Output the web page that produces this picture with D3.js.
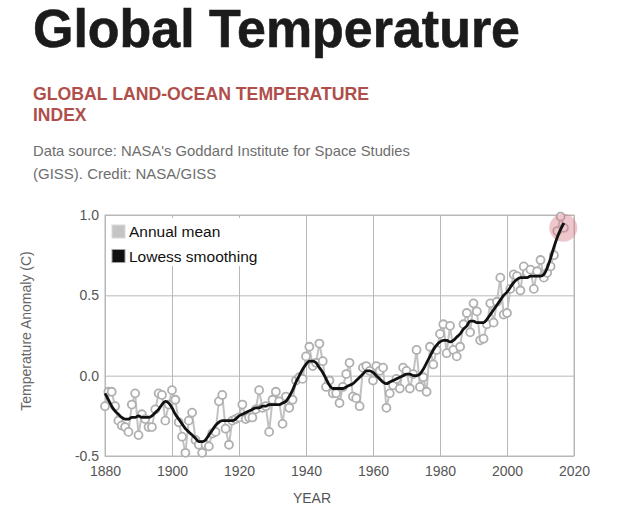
<!DOCTYPE html>
<html>
<head>
<meta charset="utf-8">
<script src="https://cdn.jsdelivr.net/npm/d3@7/dist/d3.min.js"></script>
<style>
  html, body { margin: 0; padding: 0; background: #fff; }
  svg { display: block; font-family: "Liberation Sans", Arial, Helvetica, sans-serif; }
</style>
</head>
<body>
<svg id="chart" width="640" height="508"></svg>
<script>
// ---- Data ----
const years = d3.range(1880, 2018);
const annualMean = [
  -0.19,-0.10,-0.10,-0.19,-0.28,-0.31,-0.32,-0.35,-0.18,-0.11,
  -0.37,-0.24,-0.27,-0.32,-0.32,-0.21,-0.11,-0.12,-0.28,-0.18,
  -0.09,-0.15,-0.29,-0.38,-0.48,-0.28,-0.23,-0.40,-0.43,-0.48,
  -0.43,-0.44,-0.36,-0.35,-0.16,-0.12,-0.33,-0.43,-0.28,-0.27,
  -0.26,-0.18,-0.27,-0.26,-0.26,-0.21,-0.09,-0.20,-0.19,-0.35,
  -0.15,-0.10,-0.16,-0.30,-0.13,-0.20,-0.15,-0.03,-0.01,-0.02,
   0.12, 0.18, 0.06, 0.08, 0.20, 0.09,-0.07,-0.03,-0.11,-0.11,
  -0.17,-0.07, 0.01, 0.08,-0.13,-0.14,-0.19, 0.05, 0.06, 0.03,
  -0.03, 0.06, 0.03, 0.05,-0.20,-0.11,-0.06,-0.02,-0.08, 0.05,
   0.03,-0.08, 0.01, 0.16,-0.07,-0.01,-0.10, 0.18, 0.07, 0.16,
   0.26, 0.32, 0.14, 0.31, 0.16, 0.12, 0.18, 0.32, 0.39, 0.27,
   0.45, 0.40, 0.22, 0.23, 0.32, 0.45, 0.33, 0.46, 0.61, 0.38,
   0.39, 0.54, 0.63, 0.62, 0.53, 0.68, 0.64, 0.66, 0.54, 0.65,
   0.72, 0.61, 0.64, 0.68, 0.75, 0.90, 0.99, 0.92
];
const lowess = [
  -0.11,-0.15,-0.19,-0.22,-0.24,-0.26,-0.27,-0.27,-0.26,-0.26,
  -0.25,-0.26,-0.26,-0.26,-0.25,-0.23,-0.21,-0.18,-0.16,-0.17,
  -0.20,-0.24,-0.27,-0.30,-0.33,-0.35,-0.37,-0.39,-0.41,-0.41,
  -0.40,-0.37,-0.34,-0.31,-0.29,-0.28,-0.28,-0.28,-0.28,-0.27,
  -0.25,-0.24,-0.23,-0.22,-0.21,-0.20,-0.20,-0.19,-0.19,-0.18,
  -0.18,-0.18,-0.18,-0.17,-0.16,-0.13,-0.09,-0.04, 0.00, 0.04,
   0.07, 0.09, 0.09, 0.08, 0.05, 0.02,-0.02,-0.06,-0.08,-0.08,
  -0.08,-0.08,-0.07,-0.06,-0.05,-0.03,-0.01, 0.01, 0.03, 0.03,
   0.02, 0.00,-0.02,-0.04,-0.05,-0.04,-0.03,-0.02,-0.01, 0.00,
   0.01, 0.01, 0.00, 0.00, 0.01, 0.04, 0.08, 0.12, 0.16, 0.19,
   0.21, 0.22, 0.22, 0.21, 0.22, 0.24, 0.26, 0.29, 0.31, 0.34,
   0.34, 0.33, 0.33, 0.33, 0.35, 0.38, 0.41, 0.44, 0.47, 0.50,
   0.52, 0.55, 0.58, 0.60, 0.61, 0.61, 0.61, 0.62, 0.62, 0.62,
   0.62, 0.63, 0.67, 0.73, 0.80, 0.86, 0.91, 0.95
];
const xTicks = [1880, 1900, 1920, 1940, 1960, 1980, 2000, 2020];
const yTicks = [-0.5, 0.0, 0.5, 1.0];
const highlightYear = [2016.8];
const highlightValue = [0.92];
const legendLabels = ["Annual mean", "Lowess smoothing"];

// ---- Layout ----
const svg = d3.select("#chart");
const L = 105, R = 574, T = 215, B = 456;
const x = d3.scaleLinear().domain([1880, 2020]).range([L, R]);
const y = d3.scaleLinear().domain([-0.5, 1.0]).range([B, T]);

// Header
svg.append("text").attr("x", 33).attr("y", 47)
  .attr("font-size", 53).attr("font-weight", "bold").attr("fill", "#1b1b1b")
  .attr("stroke", "#1b1b1b").attr("stroke-width", 0.6)
  .attr("textLength", 487).attr("lengthAdjust", "spacingAndGlyphs")
  .text("Global Temperature");
svg.append("text").attr("x", 33).attr("y", 100)
  .attr("font-size", 17.5).attr("font-weight", "bold").attr("fill", "#b04e4b")
  .attr("textLength", 336).attr("lengthAdjust", "spacingAndGlyphs")
  .text("GLOBAL LAND-OCEAN TEMPERATURE");
svg.append("text").attr("x", 33).attr("y", 121)
  .attr("font-size", 17.5).attr("font-weight", "bold").attr("fill", "#b04e4b")
  .text("INDEX");
svg.append("text").attr("x", 33).attr("y", 156)
  .attr("font-size", 15).attr("fill", "#6e6e6e")
  .attr("textLength", 377).attr("lengthAdjust", "spacingAndGlyphs")
  .text("Data source: NASA's Goddard Institute for Space Studies");
svg.append("text").attr("x", 33).attr("y", 179)
  .attr("font-size", 15).attr("fill", "#6e6e6e")
  .text("(GISS). Credit: NASA/GISS");

// Gridlines
const gridColor = "#b8b8b8";
const gx = svg.append("g").attr("transform", `translate(0,${B})`)
  .call(d3.axisBottom(x).tickValues(xTicks).tickSize(-(B - T)).tickFormat(""));
gx.select(".domain").remove();
gx.selectAll("line").attr("stroke", gridColor).attr("stroke-width", 1);
const gy = svg.append("g").attr("transform", `translate(${L},0)`)
  .call(d3.axisLeft(y).tickValues(yTicks).tickSize(-(R - L)).tickFormat(""));
gy.select(".domain").remove();
gy.selectAll("line").attr("stroke", gridColor).attr("stroke-width", 1);
svg.append("rect").attr("x", L).attr("y", T).attr("width", R - L).attr("height", B - T)
  .attr("fill", "none").attr("stroke", gridColor).attr("stroke-width", 1);

// Axis labels
const ax = svg.append("g").attr("transform", `translate(0,${B})`)
  .call(d3.axisBottom(x).tickValues(xTicks).tickSize(0).tickPadding(10).tickFormat(d3.format("d")));
ax.select(".domain").remove();
ax.selectAll("text").attr("font-size", 14).attr("fill", "#555").attr("font-family", "Liberation Sans, Arial, sans-serif");
const fmtY = d => d3.format(".1f")(d).replace("\u2212", "-");
const ay = svg.append("g").attr("transform", `translate(${L},0)`)
  .call(d3.axisLeft(y).tickValues(yTicks).tickSize(0).tickPadding(6).tickFormat(fmtY));
ay.select(".domain").remove();
ay.selectAll("text").attr("font-size", 14).attr("fill", "#555").attr("font-family", "Liberation Sans, Arial, sans-serif");

svg.append("text").attr("x", 312).attr("y", 503).attr("text-anchor", "middle")
  .attr("font-size", 14).attr("fill", "#555").text("YEAR");
svg.append("text").attr("transform", "translate(31,331) rotate(-90)")
  .attr("text-anchor", "middle").attr("font-size", 14).attr("fill", "#666")
  .text("Temperature Anomaly (C)");

// Data
const annual = years.map((yr, i) => ({ yr, v: annualMean[i] }));
const smooth = years.map((yr, i) => ({ yr, v: lowess[i] }));

svg.append("path").datum(annual)
  .attr("fill", "none").attr("stroke", "#c2c2c2").attr("stroke-width", 2)
  .attr("d", d3.line().x(d => x(d.yr)).y(d => y(d.v)));
svg.append("g").selectAll("circle").data(annual).join("circle")
  .attr("cx", d => x(d.yr)).attr("cy", d => y(d.v)).attr("r", 4)
  .attr("fill", "#fff").attr("stroke", "#b0b0b0").attr("stroke-width", 1.8);

// Highlight
svg.append("g").selectAll("circle").data(highlightYear).join("circle")
  .attr("cx", (d, i) => x(d)).attr("cy", (d, i) => y(highlightValue[i])).attr("r", 14)
  .attr("fill", "#d47a86").attr("fill-opacity", 0.42);

svg.append("path").datum(smooth)
  .attr("fill", "none").attr("stroke", "#111").attr("stroke-width", 2.8)
  .attr("stroke-linejoin", "round")
  .attr("d", d3.line().x(d => x(d.yr)).y(d => y(d.v)).curve(d3.curveMonotoneX));

// Legend
const lg = svg.append("g");
lg.append("rect").attr("x", 108).attr("y", 218).attr("width", 154).attr("height", 48).attr("fill", "#fff");
const swFill = ["#c4c4c4", "#111"];
const swStroke = ["#dadada", "#a0a0a0"];
legendLabels.forEach((lab, i) => {
  const yy = 225 + i * 24.5;
  lg.append("rect").attr("x", 112).attr("y", yy).attr("width", 13).attr("height", 13)
    .attr("fill", swFill[i]).attr("stroke", swStroke[i]).attr("stroke-width", 1);
  lg.append("text").attr("x", 129).attr("y", yy + 12.3)
    .attr("font-size", 15.5).attr("fill", "#111").text(lab);
});
</script>
</body>
</html>
